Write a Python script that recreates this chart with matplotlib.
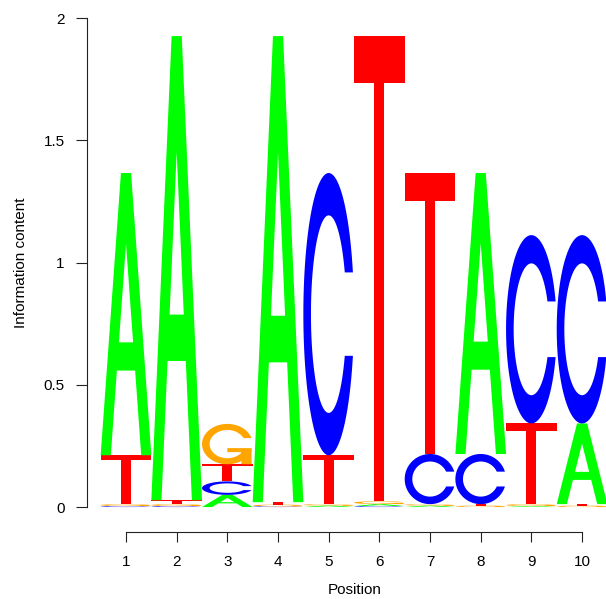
import numpy as np
import matplotlib
matplotlib.use("Agg")
import matplotlib.pyplot as plt
from matplotlib.path import Path
from matplotlib.patches import PathPatch

plt.rcParams['font.family'] = ['Liberation Sans', 'DejaVu Sans']

# information content (bits) of each base at each position
positions = [1, 2, 3, 4, 5, 6, 7, 8, 9, 10]
height_A = [1.154, 1.898, 0.050, 1.906, 0.006, 0.008, 0.006, 1.149, 0.004, 0.330]
height_C = [0.004, 0.004, 0.055, 0.003, 1.154, 0.004, 0.205, 0.205, 0.770, 0.770]
height_G = [0.008, 0.008, 0.165, 0.007, 0.006, 0.012, 0.006, 0.006, 0.008, 0.006]
height_T = [0.200, 0.016, 0.070, 0.010, 0.200, 1.902, 1.149, 0.006, 0.330, 0.006]

y_ticks = [0, 0.5, 1, 1.5, 2]
y_tick_labels = ['0', '0.5', '1', '1.5', '2']

base_colors = {'A': '#00FF00', 'C': '#0000FF', 'G': '#FFA500', 'T': '#FF0000'}


# letter outlines in a unit box (same shapes as the R seqLogo package)
def ring_outline():
    a1 = np.linspace(0.3 + np.pi / 2, np.pi, 100)
    a2 = np.linspace(np.pi, 1.5 * np.pi, 100)
    xl = np.concatenate([0.5 + 0.5 * np.sin(a1), 0.5 + 0.5 * np.sin(a2)])
    yl = np.concatenate([0.5 + 0.5 * np.cos(a1), 0.5 + 0.5 * np.cos(a2)])
    h = (0.5 + 0.5 * np.cos(a1)).max()
    x = np.concatenate([xl, xl[::-1]])
    y = np.concatenate([yl, 1 - yl[::-1]])
    xi1 = 0.5 + 0.35 * np.sin(a1)
    yi1 = 0.5 + 0.35 * np.cos(a1)
    keep = yi1 <= h
    xi1, yi1 = xi1[keep], yi1[keep]
    yi1[0] = h
    xi = np.concatenate([xi1, 0.5 + 0.35 * np.sin(a2)])
    yi = np.concatenate([yi1, 0.5 + 0.35 * np.cos(a2)])
    x1 = np.concatenate([xi, xi[::-1]])
    y1 = np.concatenate([yi, 1 - yi[::-1]])
    x = np.concatenate([x, x1[::-1]])
    y = np.concatenate([y, y1[::-1]])
    return x, y, (0.5 + 0.5 * np.sin(a1)).max()


def letter_polys(base):
    if base == 'A':
        outer = (np.array([0, 4, 6, 10, 8, 6.8, 3.2, 2]) / 10,
                 np.array([0, 10, 10, 0, 0, 3, 3, 0]) / 10)
        inner = (np.array([6.4, 5, 3.6]) / 10, np.array([4, 7.5, 4]) / 10)
        return [outer, inner]
    if base == 'T':
        return [(np.array([0, 10, 10, 6, 6, 4, 4, 0]) / 10,
                 np.array([10, 10, 9, 9, 0, 0, 9, 9]) / 10)]
    x, y, r1 = ring_outline()
    if base == 'C':
        return [(x, y)]
    h1 = 0.4
    bar = (np.array([r1, 0.5, 0.5, r1 - 0.2, r1 - 0.2, r1]),
           np.array([h1, h1, h1 - 0.1, h1 - 0.1, 0, 0]))
    return [(x[::-1], y[::-1]), bar]


def draw_letter(ax, base, xpos, ybottom, height):
    verts, codes = [], []
    for px, py in letter_polys(base):
        pts = np.column_stack([xpos - 0.5 + px, ybottom + py * height])
        verts.extend(pts.tolist())
        verts.append(pts[0].tolist())
        codes.extend([Path.MOVETO] + [Path.LINETO] * (len(pts) - 1) + [Path.CLOSEPOLY])
    patch = PathPatch(Path(verts, codes), facecolor=base_colors[base],
                      edgecolor='none', lw=0, clip_on=False)
    ax.add_patch(patch)


fig = plt.figure(figsize=(6.06, 5.99), dpi=100)
ax = fig.add_axes([87 / 606, 67 / 599, 520.4 / 606, 514 / 599])

for i, pos in enumerate(positions):
    column = {'A': height_A[i], 'C': height_C[i], 'G': height_G[i], 'T': height_T[i]}
    y0 = 0.0
    for base, h in sorted(column.items(), key=lambda kv: kv[1]):
        draw_letter(ax, base, pos, y0, h)
        y0 += h

ax.set_xlim(0.2303, 10.5)
ax.set_ylim(-0.102, 2.0)

ax.spines['top'].set_visible(False)
ax.spines['right'].set_visible(False)
ax.spines['left'].set_bounds(0, 2)
ax.spines['bottom'].set_bounds(1, 10)
for s in ['left', 'bottom']:
    ax.spines[s].set_linewidth(0.8)
    ax.spines[s].set_color('#222222')

ax.set_xticks(positions)
ax.set_xticklabels([str(p) for p in positions])
ax.set_yticks(y_ticks)
ax.set_yticklabels(y_tick_labels)
ax.tick_params(axis='y', length=8, width=0.8, color='#222222', pad=8, labelsize=11)
ax.tick_params(axis='x', length=7.2, width=0.8, color='#222222', pad=9, labelsize=11)

ax.set_xlabel('Position', fontsize=11)
ax.set_ylabel('Information content', fontsize=11)
ax.xaxis.label.set_va('center')
ax.yaxis.label.set_va('center')
ax.xaxis.set_label_coords(0.514, -0.1128)
ax.yaxis.set_label_coords(-0.1268, 0.5233)

fig.savefig('out.png', dpi=100)
